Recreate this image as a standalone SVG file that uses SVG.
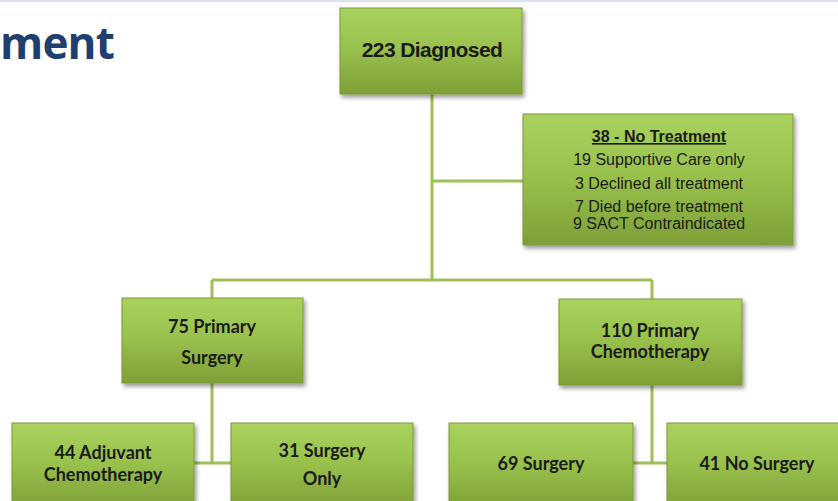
<svg xmlns="http://www.w3.org/2000/svg" width="838" height="501" viewBox="0 0 838 501">
<defs>
<linearGradient id="g" x1="0" y1="0" x2="0" y2="1">
<stop offset="0" stop-color="#AAD25E"/>
<stop offset="0.5" stop-color="#97BF4B"/>
<stop offset="1" stop-color="#7E9F36"/>
</linearGradient>
<filter id="sh" x="-10%" y="-10%" width="125%" height="130%">
<feDropShadow dx="2" dy="3" stdDeviation="2" flood-color="#000" flood-opacity="0.4"/>
</filter>
</defs>
<style>
.box{fill:url(#g);stroke:#7A9A36;stroke-width:1;filter:url(#sh)}
.ln{stroke:#9DC05A;stroke-width:3;fill:none}
.ar{font-family:"Liberation Sans",Arial,sans-serif;fill:#1A1A1A;text-anchor:middle}
.cb{font-family:Lato,"Open Sans",sans-serif;font-weight:bold;font-size:18px;fill:#1A1A1A;text-anchor:middle}
</style>
<rect width="838" height="501" fill="#FFFFFF"/>
<line x1="0" y1="1" x2="838" y2="1" stroke="#DCE3EC" stroke-width="2"/>
<text x="0" y="59" font-family="'Open Sans',sans-serif" font-weight="bold" font-size="44" letter-spacing="-0.8" fill="#1F3F6E">ment</text>
<g id="connectors">
<path class="ln" d="M432 94 V280 M432 181 H523 M212 280 H652 M212 280 V299 M652 280 V299 M212 383 V463 M194 463 H231 M652 385 V463 M633 463 H667"/>
</g>
<g id="n223">
<rect class="box" x="340" y="8" width="182" height="86"/>
<text class="ar" x="432" y="57" font-size="21" font-weight="bold" letter-spacing="-0.6">223 Diagnosed</text>
</g>
<g id="nNoTreat">
<rect class="box" x="523" y="114" width="270" height="131"/>
<text class="ar" x="659" y="142" font-size="16" font-weight="bold" text-decoration="underline">38 - No Treatment</text>
<text class="ar" x="659" y="165" font-size="16">19 Supportive  Care only</text>
<text class="ar" x="659" y="189" font-size="16">3 Declined all treatment</text>
<text class="ar" x="659" y="212" font-size="16">7 Died before treatment</text>
<text class="ar" x="659" y="229" font-size="16">9 SACT Contraindicated</text>
</g>
<g id="n75">
<rect class="box" x="122" y="298" width="181" height="85"/>
<text class="cb" x="212" y="333">75 Primary</text>
<text class="cb" x="212" y="364">Surgery</text>
</g>
<g id="n110">
<rect class="box" x="559" y="299" width="183" height="86"/>
<text class="cb" x="650" y="337">110 Primary</text>
<text class="cb" x="650" y="358">Chemotherapy</text>
</g>
<g id="n44">
<rect class="box" x="12" y="423" width="182" height="86"/>
<text class="cb" x="103" y="459">44 Adjuvant</text>
<text class="cb" x="103" y="481">Chemotherapy</text>
</g>
<g id="n31">
<rect class="box" x="231" y="423" width="182" height="86"/>
<text class="cb" x="322" y="457">31 Surgery</text>
<text class="cb" x="322" y="485">Only</text>
</g>
<g id="n69">
<rect class="box" x="449" y="423" width="184" height="86"/>
<text class="cb" x="541" y="470">69 Surgery</text>
</g>
<g id="n41">
<rect class="box" x="667" y="423" width="183" height="86"/>
<text class="cb" x="757" y="470">41 No Surgery</text>
</g>
</svg>
